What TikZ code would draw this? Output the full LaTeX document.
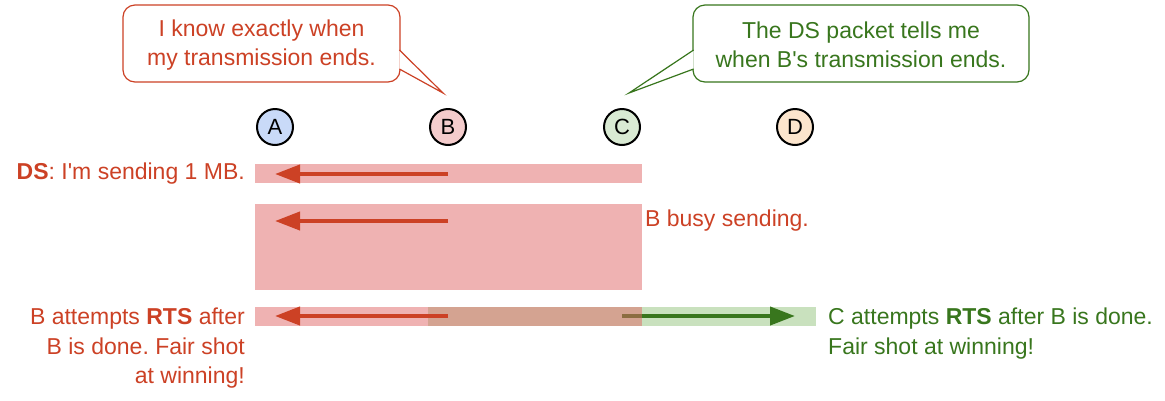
\documentclass[tikz,border=0pt]{standalone}
\usepackage{fontspec}
\setmainfont{Liberation Sans}
\newfontfamily\rfont{Liberation Sans}
\usetikzlibrary{arrows.meta}
\definecolor{txtred}{HTML}{CC4125}
\definecolor{txtgreen}{HTML}{38761D}
\definecolor{bandred}{HTML}{E06666}
\definecolor{bandgreen}{HTML}{93C47D}
\definecolor{fillA}{HTML}{C9DAF8}
\definecolor{fillB}{HTML}{F4CCCC}
\definecolor{fillC}{HTML}{D9EAD3}
\definecolor{fillD}{HTML}{FCE5CD}
\tikzset{
  x=1pt,y=-1pt,
  station/.style={circle,draw=black,line width=2pt,minimum size=36pt,inner sep=0pt,font=\rfont\fontsize{22}{24}\selectfont},
  redband/.style={fill=bandred,fill opacity=0.5,draw=none},
  greenband/.style={fill=bandgreen,fill opacity=0.5,draw=none},
  redarrow/.style={draw=txtred,line width=4pt,-{Triangle[length=25pt,width=18pt]}},
  greenarrow/.style={draw=txtgreen,line width=4pt,-{Triangle[length=25pt,width=18pt]}},
  lbl/.style={font=\rfont\fontsize{23}{29.5}\selectfont\frenchspacing,inner sep=0pt},
  bubble/.style={rounded corners=12pt,line width=1.2pt,fill=white},
}
\begin{document}
\begin{tikzpicture}
\useasboundingbox (0,0) rectangle (1165,400);
% stations
\node[station,fill=fillA] (A) at (275,127) {A};
\node[station,fill=fillB] (B) at (448,127) {B};
\node[station,fill=fillC] (C) at (622,127) {C};
\node[station,fill=fillD] (D) at (795,127) {D};
% callout tips
\coordinate (tipB) at (443,93);
\coordinate (tipC) at (629,93);
% red callout
\draw[bubble,draw=txtred] (123,5) rectangle (400,82);
\draw[draw=txtred,line width=1.2pt,fill=white,line join=miter] (399.4,50) -- (tipB) -- (399.4,69);
\node[lbl,text=txtred,align=center] (t1) at (261.5,45) {I know exactly when\\my transmission ends.};
% green callout
\draw[bubble,draw=txtgreen] (693,5) rectangle (1029,82);
\draw[draw=txtgreen,line width=1.2pt,fill=white,line join=miter] (693.6,50) -- (tipC) -- (693.6,69);
\node[lbl,text=txtgreen,align=center] (t2) at (861,45) {The DS packet tells me\\when B's transmission ends.};
% bands
\fill[redband] (255,164) rectangle (642,183);
\draw[redarrow] (448,174) -- (275,174);
\fill[redband] (255,204) rectangle (642,290);
\draw[redarrow] (448,221) -- (275,221);
\fill[greenband] (428,307) rectangle (816,326);
\draw[greenarrow] (622,316) -- (795,316);
\fill[redband] (255,307) rectangle (642,326);
\draw[redarrow] (448,316) -- (275,316);
% labels
\node[lbl,text=txtred,anchor=east] (l1) at (245,174) {\textbf{DS}: I'm sending 1 MB.};
\node[lbl,text=txtred,anchor=west] (l2) at (645,221) {B busy sending.};
\node[lbl,text=txtred,anchor=north east,align=right] (l3) at (245,308) {B attempts \textbf{RTS} after\\B is done. Fair shot\\at winning!};
\node[lbl,text=txtgreen,anchor=north west,align=left] (l4) at (828,308) {C attempts \textbf{RTS} after B is done.\\Fair shot at winning!};
\end{tikzpicture}
\end{document}
